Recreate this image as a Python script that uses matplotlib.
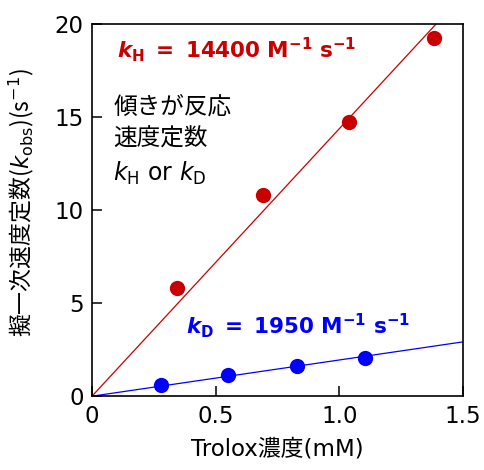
import matplotlib
matplotlib.use("Agg")
import matplotlib.pyplot as plt
import numpy as np

# data (Trolox concentration in mM, k_obs in s^-1)
trolox_h = [0.345, 0.69, 1.04, 1.383]
kobs_h = [5.8, 10.82, 14.77, 19.27]
trolox_d = [0.278, 0.55, 0.828, 1.103]
kobs_d = [0.59, 1.13, 1.63, 2.08]
slope_h = 14.4    # 14400 M^-1 s^-1 -> per mM
slope_d = 1.95    # 1950 M^-1 s^-1
xticks = [0, 0.5, 1.0, 1.5]
xticklabels = ["0", "0.5", "1.0", "1.5"]
yticks = [0, 5, 10, 15, 20]
yticklabels = ["0", "5", "10", "15", "20"]

red = "#c80000"
blue = "#0000ff"

plt.rcParams['font.family'] = ['DejaVu Sans', 'Noto Sans CJK JP']
plt.rcParams['mathtext.fontset'] = 'custom'
plt.rcParams['mathtext.rm'] = 'DejaVu Sans'
plt.rcParams['mathtext.it'] = 'DejaVu Sans:italic'
plt.rcParams['mathtext.bf'] = 'DejaVu Sans:bold'
plt.rcParams['mathtext.bfit'] = 'DejaVu Sans:bold:italic'

fig = plt.figure(figsize=(4.84, 4.70), dpi=100)
ax = fig.add_axes([0.190, 0.157, 0.767, 0.791])

xs = np.array([0, 1.5])
ax.plot(xs, slope_h * xs, color=red, lw=0.9, zorder=2)
ax.plot(xs, slope_d * xs, color=blue, lw=0.9, zorder=2)
ax.plot(trolox_h, kobs_h, 'o', color=red, ms=11, mec='none', zorder=3, clip_on=False)
ax.plot(trolox_d, kobs_d, 'o', color=blue, ms=11, mec='none', zorder=3, clip_on=False)

ax.set_xlim(0, 1.5)
ax.set_ylim(0, 20)
ax.set_xticks(xticks)
ax.set_xticklabels(xticklabels)
ax.set_yticks(yticks)
ax.set_yticklabels(yticklabels)
ax.tick_params(direction='in', length=7, width=1.1, labelsize=16.5, pad=6)
for s in ax.spines.values():
    s.set_linewidth(1.2)

ax.set_xlabel("Trolox濃度(mM)", fontsize=16.5, labelpad=7)
ax.set_ylabel("擬一次速度定数($k_\\mathrm{obs}$)(s$^{-1}$)", fontsize=16.5,
              family='Noto Sans CJK JP')
ax.yaxis.set_label_coords(-0.15, 0.52)

ax.text(0.10, 18.2, r"$\mathbfit{k}_\mathbf{H}\ \mathbf{{=}\ 14400\ M^{-1}\ s^{-1}}$",
        color=red, fontsize=15.5, va='baseline', ha='left')
ax.text(0.38, 3.39, r"$\mathbfit{k}_\mathbf{D}\ \mathbf{{=}\ 1950\ M^{-1}\ s^{-1}}$",
        color=blue, fontsize=15.5, va='baseline', ha='left')

ax.text(0.086, 15.6, "傾きが反応", fontsize=17, va='center', ha='left')
ax.text(0.086, 13.85, "速度定数", fontsize=17, va='center', ha='left')
ax.text(0.086, 12.0, r"$k_\mathrm{H}$ or $k_\mathrm{D}$", fontsize=17, va='center', ha='left')

fig.savefig("out.png", dpi=100)
